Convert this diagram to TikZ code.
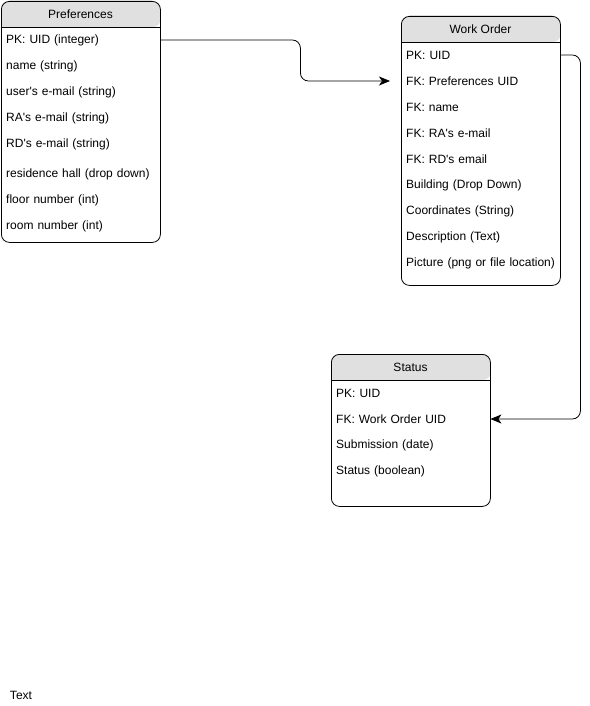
\documentclass[tikz,border=0pt]{standalone}
\usepackage{fontspec}
\setmainfont{Liberation Sans}
\usetikzlibrary{arrows.meta}
\usetikzlibrary{backgrounds}

\definecolor{headgray}{HTML}{E0E0E0}

\begin{document}
\begin{tikzpicture}[x=1pt, y=-1pt,
    tablebox/.style={draw, rounded corners=8, line width=0.8, minimum width=159, anchor=north west, inner sep=0},
    headfill/.style={fill=headgray},
    headline/.style={line width=0.8},
    title/.style={font=\fontsize{12}{14}\selectfont, inner sep=0},
    field/.style={anchor=west, inner xsep=5, inner ysep=0, text width=149, minimum height=20, font=\fontsize{12}{14}\selectfont},
    link/.style={line width=0.8, rounded corners=8, -{Stealth[length=11, width=9, inset=3]}}]

\useasboundingbox (0,0) rectangle (589,706);

% Preferences
\node[tablebox, minimum height=241] (pref) at (1,1) {};
\begin{scope}[on background layer]
\fill[headfill] (pref.west |- 0,27) [rounded corners=8] -- (pref.north west) -- (pref.north east) -- (pref.east |- 0,27) [sharp corners] -- cycle;
\end{scope}
\draw[headline] (pref.west |- 0,27) -- (pref.east |- 0,27);
\node[title] (prefTitle) at (80.5,14) {Preferences};
\node[field] (prefUID) at (pref.west |- 0,40) {PK: UID (integer)};
\node[field] (prefName) at (pref.west |- 0,66) {name (string)};
\node[field] (prefMail) at (pref.west |- 0,92) {user\textquotesingle s e-mail (string)};
\node[field] (prefRA) at (pref.west |- 0,118) {RA\textquotesingle s e-mail (string)};
\node[field] (prefRD) at (pref.west |- 0,144) {RD\textquotesingle s e-mail (string)};
\node[field] (prefHall) at (pref.west |- 0,174) {residence hall (drop down)};
\node[field] (prefFloor) at (pref.west |- 0,200) {floor number (int)};
\node[field] (prefRoom) at (pref.west |- 0,226) {room number (int)};

% Work Order
\node[tablebox, minimum height=269] (wo) at (401,16) {};
\begin{scope}[on background layer]
\fill[headfill] (wo.west |- 0,42) [rounded corners=8] -- (wo.north west) -- (wo.north east) -- (wo.east |- 0,42) [sharp corners] -- cycle;
\end{scope}
\draw[headline] (wo.west |- 0,42) -- (wo.east |- 0,42);
\node[title] (woTitle) at (480.5,29) {Work Order};
\node[field] (woUID) at (wo.west |- 0,55) {PK: UID};
\node[field] (woPref) at (wo.west |- 0,81) {FK: Preferences UID};
\node[field] (woName) at (wo.west |- 0,107) {FK: name};
\node[field] (woRA) at (wo.west |- 0,133) {FK: RA\textquotesingle s e-mail};
\node[field] (woRD) at (wo.west |- 0,159) {FK: RD\textquotesingle s email};
\node[field] (woBuilding) at (wo.west |- 0,185) {Building (Drop Down)};
\node[field] (woCoords) at (wo.west |- 0,211) {Coordinates (String)};
\node[field] (woDesc) at (wo.west |- 0,237) {Description (Text)};
\node[field] (woPic) at (wo.west |- 0,263) {Picture (png or file location)};

% Status
\node[tablebox, minimum height=152] (st) at (331,354) {};
\begin{scope}[on background layer]
\fill[headfill] (st.west |- 0,380) [rounded corners=8] -- (st.north west) -- (st.north east) -- (st.east |- 0,380) [sharp corners] -- cycle;
\end{scope}
\draw[headline] (st.west |- 0,380) -- (st.east |- 0,380);
\node[title] (stTitle) at (410.5,367) {Status};
\node[field] (stUID) at (st.west |- 0,393) {PK: UID};
\node[field] (stWoUID) at (st.west |- 0,419) {FK: Work Order UID};
\node[field] (stDate) at (st.west |- 0,445) {Submission (date)};
\node[field] (stFlag) at (st.west |- 0,471) {Status (boolean)};

\node[title] (note) at (21,695) {Text};

% links
\draw[link, shorten >=11] (prefUID.east) -- ++(140,0) |- (woPref.west);
\draw[link] (woUID.east) -- ++(20,0) |- (stWoUID.east);

\end{tikzpicture}
\end{document}
